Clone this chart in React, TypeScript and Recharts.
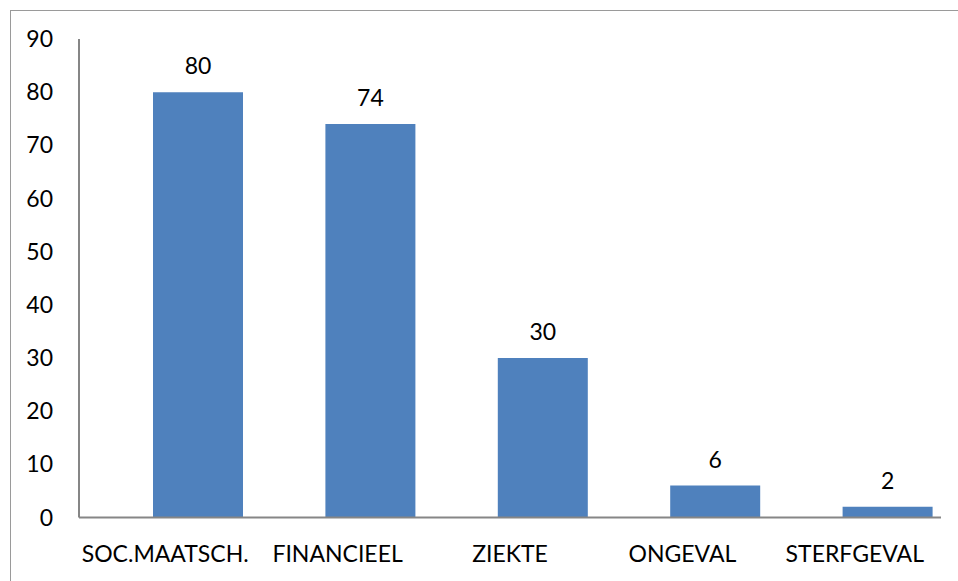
import { BarChart, Bar, XAxis, YAxis, LabelList } from "recharts";

// Category counts (bar chart with value labels)
const categories = ["SOC.MAATSCH.", "FINANCIEEL", "ZIEKTE", "ONGEVAL", "STERFGEVAL"];
const counts = [80, 74, 30, 6, 2];
const yTicks = [0, 10, 20, 30, 40, 50, 60, 70, 80, 90];

const data = categories.map((name, i) => ({ name, value: counts[i] }));

const font = "Lato, 'Open Sans', sans-serif";
const axisColor = "#868686";

export default function App() {
  return (
    <div
      style={{
        position: "absolute",
        left: 10,
        top: 10,
        width: 947,
        height: 570,
        borderTop: "1px solid #9a9a9a",
        borderLeft: "1px solid #9a9a9a",
        overflow: "hidden",
        fontFamily: font,
      }}
    >
      <BarChart
        width={947}
        height={570}
        data={data}
        margin={{ top: 28, right: 17, bottom: 13.5, left: 0 }}
        barSize={90}
      >
        <XAxis
          xAxisId="cat"
          dataKey="name"
          height={50}
          axisLine={{ stroke: axisColor, strokeWidth: 2 }}
          tickLine={false}
          tickSize={6}
          tickMargin={22}
          tick={{ fill: "#000", fontSize: 23, fontFamily: font }}
          interval={0}
        />
        <XAxis
          xAxisId="bars"
          dataKey="name"
          hide
          height={0}
          padding={{ left: 33, right: -33 }}
        />
        <YAxis
          width={68}
          domain={[0, 90]}
          ticks={yTicks}
          interval={0}
          axisLine={{ stroke: axisColor, strokeWidth: 2 }}
          tickLine={false}
          tickSize={6}
          tickMargin={20}
          tick={{ fill: "#000", fontSize: 23, fontFamily: font }}
        />
        <Bar xAxisId="bars" dataKey="value" fill="#4F81BD" isAnimationActive={false}>
          <LabelList
            dataKey="value"
            position="top"
            offset={18}
            fill="#000"
            fontSize={23}
            fontFamily={font}
          />
        </Bar>
      </BarChart>
    </div>
  );
}
